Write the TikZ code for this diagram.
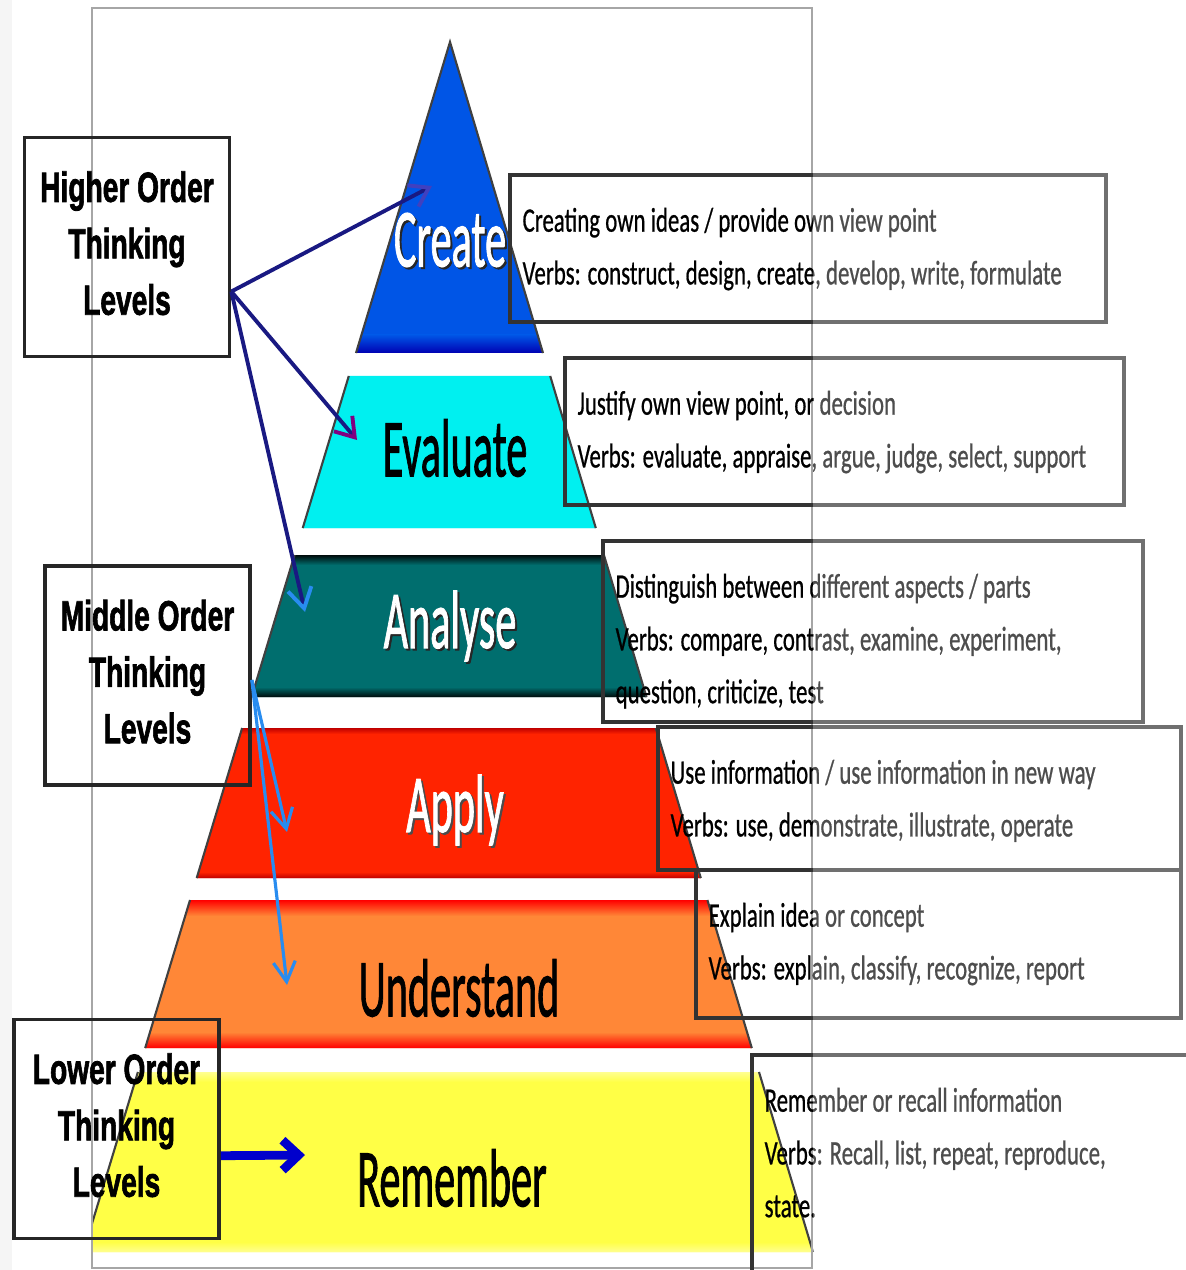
\documentclass[tikz,border=0pt]{standalone}
\usepackage{fontspec}
\setmainfont{Carlito}
\newfontfamily\lvlfont{Liberation Sans}[BoldFeatures={FakeBold=2}]
\newfontfamily\bandfont{Carlito}[FakeBold=1.5]
\newfontfamily\descfont{Carlito}[FakeBold=0.8]
\usetikzlibrary{positioning,calc,arrows.meta}

\definecolor{cblue}{RGB}{0,85,230}
\definecolor{ecyan}{RGB}{0,240,240}
\definecolor{ateal}{RGB}{0,110,110}
\definecolor{ared}{RGB}{255,35,0}
\definecolor{uorange}{RGB}{255,135,55}
\definecolor{ryellow}{RGB}{255,255,70}
\definecolor{navy}{RGB}{25,25,130}
\definecolor{skyb}{RGB}{40,140,240}

\tikzstyle{lvlbox}=[draw=black!85, line width=1pt, minimum width=2.05cm, minimum height=2.19cm, inner sep=0pt, font=\lvlfont\bfseries\fontsize{8}{10.7}\selectfont]
\tikzstyle{descbox}=[draw=black!80, line width=1.1pt, inner sep=0pt]
\tikzstyle{desc}=[inner sep=0pt, font=\descfont\fontsize{6.5}{10}\selectfont]
\tikzstyle{blabel}=[inner sep=0pt, font=\bandfont\fontsize{12}{14}\selectfont]
\tikzstyle{bandedge}=[black!75, line width=0.6pt]
\tikzstyle{hiarrow}=[navy, line width=1.1pt]
\tikzstyle{midarrow}=[skyb, line width=0.9pt]

\newcommand{\vstretch}[2]{\scalebox{1}[#1]{#2}}
\newcommand{\lines}[1]{\begin{tabular}{@{}l@{}}#1\end{tabular}}
\newcommand{\clines}[1]{\begin{tabular}{@{}c@{}}#1\end{tabular}}

\begin{document}
\begin{tikzpicture}[x=0.01cm, y=-0.01cm]

    \useasboundingbox (0,0) rectangle (1186,1270);
    \clip (0,0) rectangle (1186,1270);
    \fill[white] (0,0) rectangle (1186,1270);
    \fill[gray!8] (0,0) rectangle (12,1270);

    % pyramid
    \begin{scope}
      \clip (92,0) rectangle (1186,1270);
      \begin{scope}
        \clip (450,42) -- (543,353) -- (356,353) -- cycle;
        \fill[cblue] (340,30) rectangle (560,360);
        \shade[top color=cblue, bottom color=blue!70!black] (340,335) rectangle (560,353);
      \end{scope}
      \draw[bandedge] (356,353) -- (450,42) -- (543,353);
      \foreach \nm/\ya/\yb/\col/\rim/\rw in {eval/376/528/ecyan/ecyan/2, ana/555/697/ateal/black!90!ateal/10, app/728/878/ared/red!75!black/6, und/900/1048/uorange/red/16, rem/1072/1252/ryellow/white!40!ryellow/10}{
        \pgfmathsetmacro{\xa}{450-0.303*(\ya-42)}
        \pgfmathsetmacro{\xb}{450+0.300*(\ya-42)}
        \pgfmathsetmacro{\xc}{450+0.300*(\yb-42)}
        \pgfmathsetmacro{\xd}{450-0.303*(\yb-42)}
        \begin{scope}
          \clip (\xa,\ya) -- (\xb,\ya) -- (\xc,\yb) -- (\xd,\yb) -- cycle;
          \fill[\col] (\xd-10,\ya-10) rectangle (\xc+10,\yb+10);
          \shade[top color=\rim, bottom color=\col] (\xd-10,\ya) rectangle (\xc+10,\ya+\rw);
          \shade[top color=\col, bottom color=\rim] (\xd-10,\yb-\rw) rectangle (\xc+10,\yb);
        \end{scope}
        \draw[bandedge] (\xa,\ya) -- (\xd,\yb) (\xb,\ya) -- (\xc,\yb);
      }
    \end{scope}

    % level names
    \node[blabel, text=black!85] (createsh) at (452,242) {\vstretch{1.95}{Create}};
    \node[blabel, text=white] (create) at (450,240) {\vstretch{1.95}{Create}};
    \node[blabel] (evaluate) at (455,448) {\vstretch{1.95}{Evaluate}};
    \node[blabel, text=black!85] (analysesh) at (452,628) {\vstretch{1.95}{Analyse}};
    \node[blabel, text=white] (analyse) at (450,626) {\vstretch{1.95}{Analyse}};
    \node[blabel, text=black!70] (applysh) at (457,812) {\vstretch{1.95}{Apply}};
    \node[blabel, text=white] (apply) at (455,810) {\vstretch{1.95}{Apply}};
    \node[blabel] (understand) at (459,988) {\vstretch{1.95}{Understand}};
    \node[blabel] (remember) at (452,1178) {\vstretch{1.95}{Remember}};

    % frame
    \draw[gray!70, line width=0.6pt] (92,8) rectangle (812,1268);

    % thinking level boxes
    \node[lvlbox] (hot) at (127,247) {\vstretch{1.5}{\clines{Higher Order\\Thinking\\Levels}}};
    \node[lvlbox] (mot) at (147.5,675.5) {\vstretch{1.5}{\clines{Middle Order\\Thinking\\Levels}}};
    \node[lvlbox] (lot) at (116.5,1129) {\vstretch{1.5}{\clines{Lower Order\\Thinking\\Levels}}};

    \coordinate (hotout) at ($(hot.south east)!0.3!(hot.north east)$);
    \coordinate (motout) at ($(mot.south east)!0.48!(mot.north east)$);
    \coordinate (loout) at ($(lot.south east)!0.38!(lot.north east)$);
    \coordinate (tocreate) at (432,186);
    \coordinate (toeval) at (357,440);
    \coordinate (toana) at (305,612);
    \coordinate (toapp) at (287,832);
    \coordinate (tound) at (287,985);
    \coordinate (torem) at (305,1155);

    \draw[hiarrow, -{Straight Barb[length=0.18cm, width=0.24cm, color=gray!50!blue]}] (hotout) -- (tocreate);
    \draw[hiarrow, -{Straight Barb[length=0.18cm, width=0.24cm, color=violet]}] (hotout) -- (toeval);
    \draw[hiarrow, -{Straight Barb[length=0.2cm, width=0.24cm, color=skyb]}] (hotout) -- (toana);
    \draw[midarrow, -{Straight Barb[length=0.2cm, width=0.22cm]}] (motout) -- (toapp);
    \draw[midarrow, -{Straight Barb[length=0.2cm, width=0.22cm]}] (motout) -- (tound);
    \draw[blue!80!black, line width=2.5pt, -{Straight Barb[length=0.16cm, width=0.3cm]}] (loout) -- (torem);

    % description boxes
    \foreach \n/\cx/\cy/\w/\h in {1/808/248.5/5.96/1.47, 2/844.5/431.5/5.59/1.47, 3/873/631.5/5.40/1.81, 4/919.5/798.5/5.23/1.43, 5/938.5/944/4.85/1.48, 6/986/1177.5/4.68/2.45}{
      \node[descbox, minimum width=\w cm, minimum height=\h cm] (dbox\n) at (\cx,\cy) {};
    }

    \node[desc, below right=0.21cm and 0.14cm of dbox1.north west] (dtext1) {\vstretch{1.5}{\lines{Creating own ideas / provide own view point\\Verbs: construct, design, create, develop, write, formulate}}};
    \node[desc, below right=0.21cm and 0.14cm of dbox2.north west] (dtext2) {\vstretch{1.5}{\lines{Justify own view point, or decision\\Verbs: evaluate, appraise, argue, judge, select, support}}};
    \node[desc, below right=0.21cm and 0.14cm of dbox3.north west] (dtext3) {\vstretch{1.5}{\lines{Distinguish between different aspects / parts\\Verbs: compare, contrast, examine, experiment,\\question, criticize, test}}};
    \node[desc, below right=0.21cm and 0.14cm of dbox4.north west] (dtext4) {\vstretch{1.5}{\lines{Use information / use information in new way\\Verbs: use, demonstrate, illustrate, operate}}};
    \node[desc, below right=0.21cm and 0.14cm of dbox5.north west] (dtext5) {\vstretch{1.5}{\lines{Explain idea or concept\\Verbs: explain, classify, recognize, report}}};
    \node[desc, below right=0.21cm and 0.14cm of dbox6.north west] (dtext6) {\vstretch{1.5}{\lines{Remember or recall information\\Verbs: Recall, list, repeat, reproduce,\\state.}}};

    \fill[white, opacity=0.3] (813,0) rectangle (1186,1270);

\end{tikzpicture}
\end{document}
